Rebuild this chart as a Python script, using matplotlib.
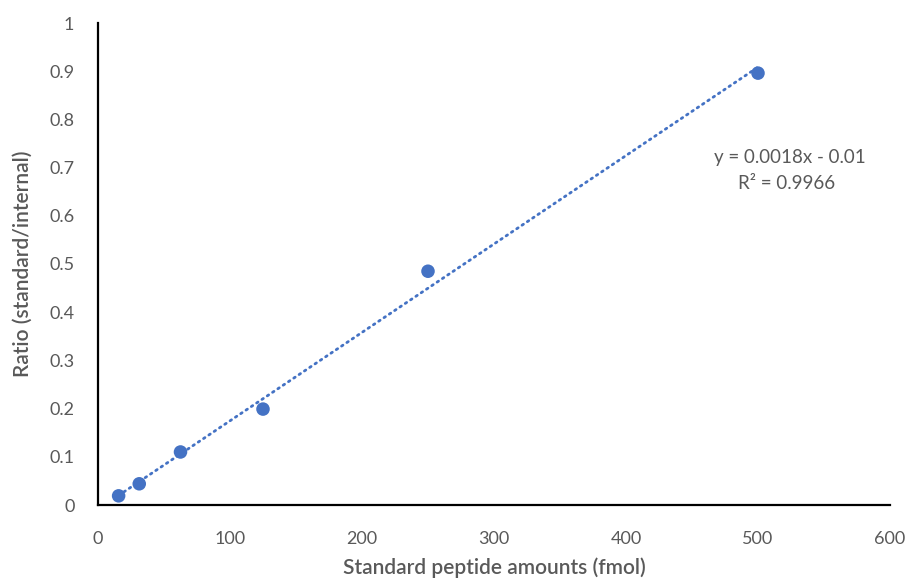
import numpy as np
import matplotlib.pyplot as plt

# standard peptide amounts (fmol) and measured ratios
amounts = [15.625, 31.25, 62.5, 125, 250, 500]
ratios = [0.019, 0.044, 0.110, 0.199, 0.485, 0.896]

x_ticks = [0, 100, 200, 300, 400, 500, 600]
y_ticks = [0, 0.1, 0.2, 0.3, 0.4, 0.5, 0.6, 0.7, 0.8, 0.9, 1]
y_tick_labels = ["0", "0.1", "0.2", "0.3", "0.4", "0.5", "0.6", "0.7", "0.8", "0.9", "1"]

blue = "#4472C4"
grey = "#595959"

plt.rcParams['font.family'] = ['Lato', 'DejaVu Sans']

fig = plt.figure(figsize=(9.09, 5.79), dpi=100)
ax = fig.add_axes([98 / 909, 1 - 505 / 579, (890 - 98) / 909, (505 - 23) / 579])

# linear trendline through the points
slope, intercept = np.polyfit(amounts, ratios, 1)
xs = np.array([amounts[0], amounts[-1]])
ax.plot(xs, slope * xs + intercept, color=blue, linewidth=2.0,
        linestyle=(0, (0.6, 1.7)), dash_capstyle='round', zorder=2)

ax.scatter(amounts, ratios, s=95, color=blue, zorder=3, edgecolors='none')

ax.text(524, 0.72, "y = 0.0018x - 0.01", ha='center', va='center', fontsize=13.5, color=grey)
ax.text(522, 0.666, "R² = 0.9966", ha='center', va='center', fontsize=13.5, color=grey)

ax.set_xlim(0, 600)
ax.set_ylim(0, 1)
ax.set_xticks(x_ticks)
ax.set_yticks(y_ticks)
ax.set_yticklabels(y_tick_labels)
ax.tick_params(length=0, labelsize=13, labelcolor=grey)
ax.tick_params(axis='x', pad=19)
ax.tick_params(axis='y', pad=17)

for side in ['top', 'right']:
    ax.spines[side].set_visible(False)
for side in ['left', 'bottom']:
    ax.spines[side].set_linewidth(1.6)
    ax.spines[side].set_color('black')

ax.set_xlabel("Standard peptide amounts (fmol)", fontsize=15, fontweight='semibold', color=grey, labelpad=7)
ax.set_ylabel("Ratio (standard/internal)", fontsize=15, fontweight='semibold', color=grey, labelpad=12)

fig.savefig("out.png", dpi=100)
